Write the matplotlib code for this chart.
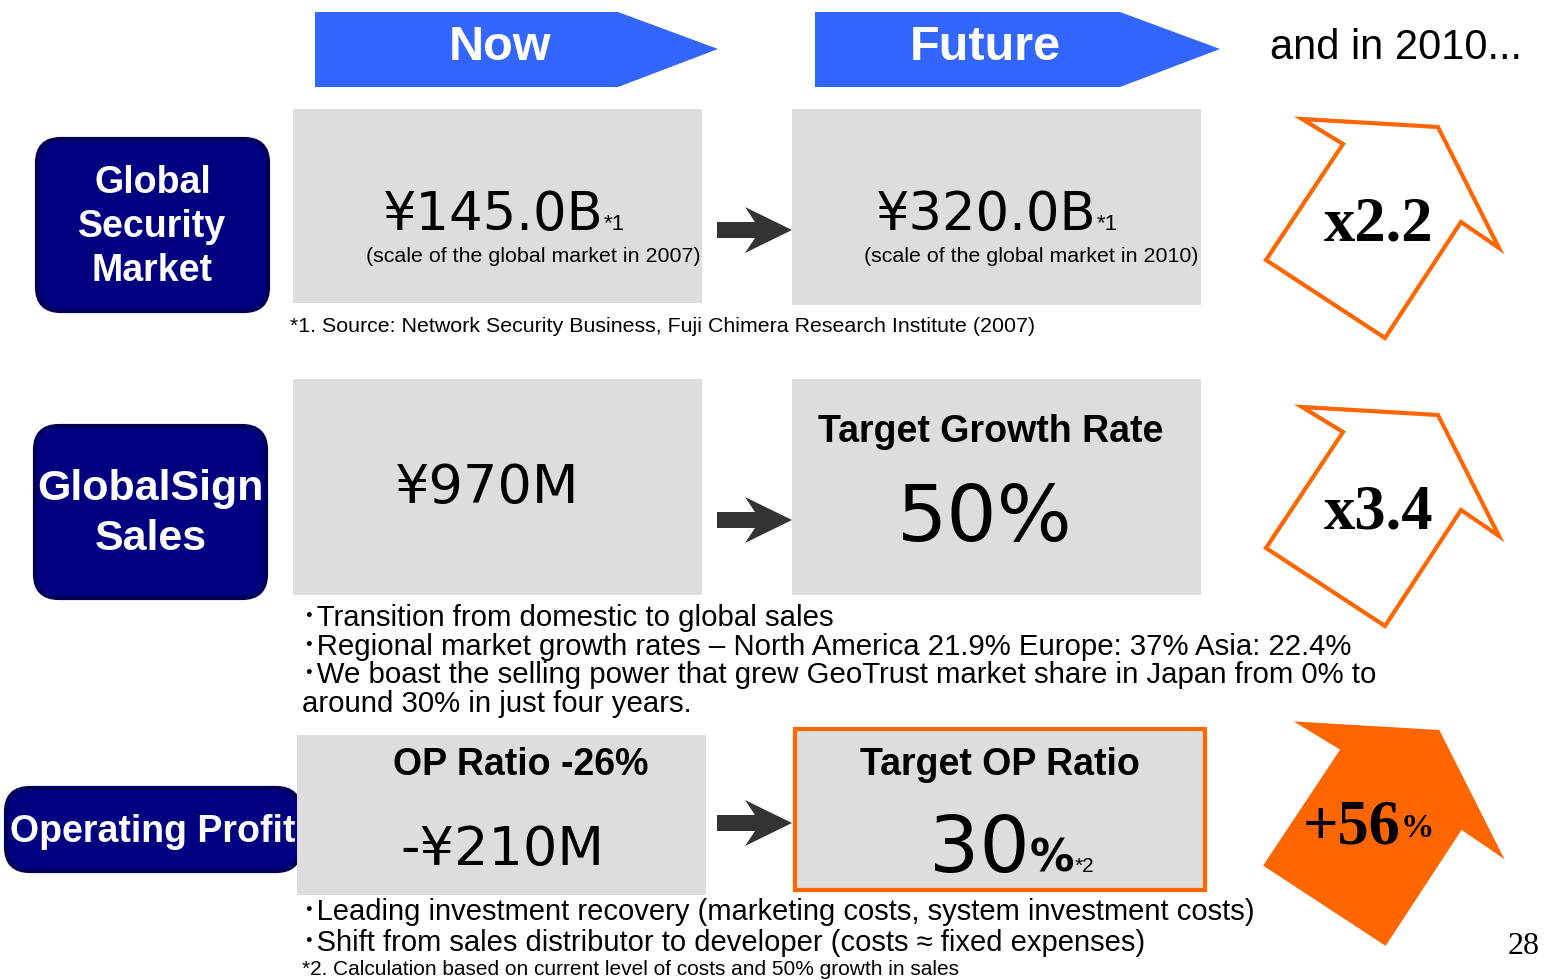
import matplotlib.pyplot as plt
from matplotlib.patches import FancyBboxPatch, Polygon, Rectangle
import numpy as np

# Contenido de la diapositiva
headers = ["Now", "Future"]
header_note = "and in 2010..."
row_labels = ["Global\nSecurity\nMarket", "GlobalSign\nSales", "Operating Profit"]
now_values = ["¥145.0B", "¥970M", "-¥210M"]
now_captions = ["(scale of the global market in 2007)", "", ""]
now_titles = ["", "", "OP Ratio -26%"]
future_titles = ["", "Target Growth Rate", "Target OP Ratio"]
future_values = ["¥320.0B", "50%", "30"]
future_captions = ["(scale of the global market in 2010)", "", ""]
growth_labels = ["x2.2", "x3.4", "+56"]
source_note = "*1. Source: Network Security Business, Fuji Chimera Research Institute (2007)"
sales_bullets = [
    "･Transition from domestic to global sales",
    "･Regional market growth rates – North America 21.9% Europe: 37% Asia: 22.4%",
    "･We boast the selling power that grew GeoTrust market share in Japan from 0% to",
    "around 30% in just four years.",
]
profit_bullets = [
    "･Leading investment recovery (marketing costs, system investment costs)",
    "･Shift from sales distributor to developer (costs ≈ fixed expenses)",
]
profit_note = "*2. Calculation based on current level of costs and 50% growth in sales"
page_number = "28"

# Colores
BLUE = "#3366FF"
NAVY = "#000080"
GRAY = "#DDDDDD"
ORANGE = "#FF6600"
DARK = "#333333"

SANS = ["Liberation Sans", "Noto Sans CJK JP", "DejaVu Sans"]
NARROW = ["Liberation Sans Narrow", "Liberation Sans", "Noto Sans CJK JP"]
WIDE = ["DejaVu Sans"]

fig = plt.figure(figsize=(15.44, 9.80), dpi=100)
ax = fig.add_axes([0, 0, 1, 1])
ax.set_xlim(0, 1544)
ax.set_ylim(980, 0)
ax.axis("off")

# Flechas de encabezado
for (x0, x1, tip, cx), label in zip([(315, 618, 718, 500), (815, 1120, 1220, 985)], headers):
    ax.add_patch(Polygon([(x0, 12), (x1, 12), (tip, 49), (x1, 87), (x0, 87)],
                         closed=True, color=BLUE, lw=0))
    ax.text(cx, 47, label, color="white", fontsize=35,
            fontweight="bold", family=SANS, ha="center", va="center")
ax.text(1270, 48, header_note, fontsize=30, family=SANS, va="center")

# Cajas de etiquetas
label_boxes = [(37, 139, 231, 172), (35, 426, 231, 172), (6, 788, 294, 83)]
label_sizes = [27, 31, 27]
label_spacing = [1.3, 1.3, 1.0]
for (x, y, w, h), lab, fs, ls in zip(label_boxes, row_labels, label_sizes, label_spacing):
    ax.add_patch(FancyBboxPatch((x, y), w, h, boxstyle="round,pad=0,rounding_size=24",
                                fc=NAVY, ec="#00005A", lw=3))
    ax.text(x + w / 2, y + h / 2 + 2, lab, color="white", fontsize=fs, fontweight="bold",
            family=SANS, ha="center", va="center", linespacing=ls)

# Cajas grises
now_boxes = [(293, 109, 409, 194), (293, 379, 409, 216), (297, 735, 409, 160)]
future_boxes = [(792, 109, 409, 196), (792, 379, 409, 216), (795, 729, 410, 161)]
for x, y, w, h in now_boxes:
    ax.add_patch(Rectangle((x, y), w, h, fc=GRAY, lw=0))
for i, (x, y, w, h) in enumerate(future_boxes):
    if i == 2:
        ax.add_patch(Rectangle((x, y), w, h, fc=GRAY, ec=ORANGE, lw=3))
    else:
        ax.add_patch(Rectangle((x, y), w, h, fc=GRAY, lw=0))

# Flechas oscuras entre cajas
for cy in [230, 520, 823]:
    ax.add_patch(Polygon([(717, cy - 8), (755, cy - 8), (745, cy - 23), (792, cy),
                          (745, cy + 23), (755, cy + 8), (717, cy + 8)],
                         closed=True, color=DARK, lw=0))

# Fila 1: mercado global
t = ax.text(493, 230, now_values[0], fontsize=38, family=WIDE, ha="center", va="baseline")
ax.annotate("*1", xy=(1, 0.12), xycoords=t, fontsize=16, family=SANS, va="bottom")
ax.text(533, 256, now_captions[0], fontsize=15.4, family=SANS, ha="center", va="center")
t = ax.text(986, 230, future_values[0], fontsize=38, family=WIDE, ha="center", va="baseline")
ax.annotate("*1", xy=(1, 0.12), xycoords=t, fontsize=16, family=SANS, va="bottom")
ax.text(1031, 256, future_captions[0], fontsize=15.4, family=SANS, ha="center", va="center")
ax.text(290, 326, source_note, fontsize=15.4, family=SANS, va="center")

# Fila 2: ventas GlobalSign
ax.text(487, 503, now_values[1], fontsize=39, family=WIDE, ha="center", va="baseline")
ax.text(991, 432, future_titles[1], fontsize=27, fontweight="bold", family=SANS,
        ha="center", va="center")
ax.text(985, 541, future_values[1], fontsize=57, family=WIDE, ha="center", va="baseline")
for i, line in enumerate(sales_bullets):
    ax.text(302, 618 + i * 28.5, line, fontsize=21.2, family=SANS, va="center")

# Fila 3: beneficio operativo
ax.text(521, 765, now_titles[2], fontsize=27, fontweight="bold", family=SANS,
        ha="center", va="center")
ax.text(502, 865, now_values[2], fontsize=39, family=WIDE, ha="center", va="baseline")
ax.text(1000, 765, future_titles[2], fontsize=27, fontweight="bold", family=SANS,
        ha="center", va="center")
t = ax.text(1030, 872, future_values[2], fontsize=57, family=WIDE, ha="right", va="baseline")
t2 = ax.annotate("%", xy=(1, 0.1), xycoords=t, fontsize=32, fontweight="bold",
                 family=WIDE, va="bottom")
ax.annotate("*2", xy=(1, 0.1), xycoords=t2, fontsize=15, family=SANS, va="bottom")
for i, line in enumerate(profit_bullets):
    ax.text(302, 912 + i * 31, line, fontsize=21, family=NARROW, va="center")
ax.text(302, 969, profit_note, fontsize=15, family=NARROW, va="center")

# Flechas naranjas de crecimiento
arrow = np.array([(1302, 119), (1438, 127), (1499, 248), (1461, 222),
                  (1385, 338), (1266, 260), (1343, 144)])
for i, (dy, lab) in enumerate(zip([0, 288, 605], growth_labels)):
    filled = i == 2
    ax.add_patch(Polygon(arrow + [0, dy], closed=True, fc=ORANGE if filled else "white",
                         ec=ORANGE, lw=3, joinstyle="miter"))
    if filled:
        t = ax.text(1401, 828, lab, fontsize=45, fontweight="bold",
                    family="Liberation Serif", ha="right", va="center")
        ax.annotate("%", xy=(1, 0.22), xycoords=t, fontsize=24, fontweight="bold",
                    family="Liberation Serif", va="bottom")
    else:
        ax.text(1379, 225 + dy, lab, fontsize=45, fontweight="bold",
                family="Liberation Serif", ha="center", va="center")

ax.text(1540, 946, page_number, fontsize=23, family="Liberation Serif",
        ha="right", va="center")

fig.savefig("out.png", dpi=100)
